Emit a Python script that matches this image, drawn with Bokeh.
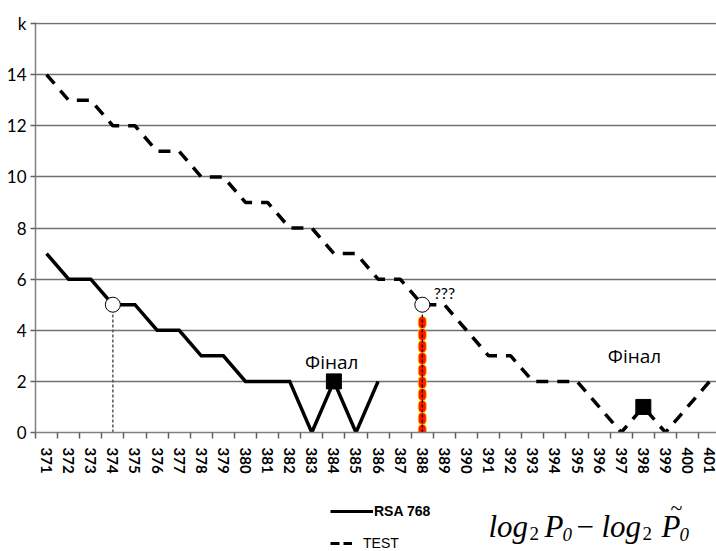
from bokeh.plotting import figure
from bokeh.layouts import column
from bokeh.models import Range1d, FixedTicker, Label, Legend, LegendItem
from bokeh.embed import file_html
from bokeh.resources import INLINE

# ---------------- data ----------------
categories = list(range(371, 402))
rsa_x = categories[:16]
rsa_k = [7, 6, 6, 5, 5, 4, 4, 3, 3, 2, 2, 2, 0, 2, 0, 2]
test_k = [14, 13, 13, 12, 12, 11, 11, 10, 10, 9, 9, 8, 8, 7, 7, 6, 6, 5, 5,
          4, 3, 3, 2, 2, 2, 1, 0, 1, 0, 1, 2]
y_ticks = [0, 2, 4, 6, 8, 10, 12, 14, 16]
y_tick_labels = {0: "0", 2: "2", 4: "4", 6: "6", 8: "8", 10: "10", 12: "12", 14: "14", 16: "k"}

circle_x = [374, 388]
circle_k = [5, 5]
square_x = [384, 398]
square_k = [2, 1]
gray_drop_x = [374, 374]
gray_drop_k = [0, 5]
red_drop_x = [388, 388]
red_drop_k = [0, 4.4]
black_drop_k = [0, 5]

final_labels_x = [383.9, 397.6]
final_labels_k = [2.75, 3.0]
question_x = 389.0
question_k = 5.47

series_names = ["RSA 768", "TEST"]

# ---------------- main figure ----------------
p = figure(width=716, height=490, output_backend="svg", toolbar_location=None,
           x_range=Range1d(370.5, 401.31), y_range=Range1d(0, 16.04),
           min_border_left=35, min_border_right=0, min_border_top=22, min_border_bottom=58,
           background_fill_color="white", border_fill_color="white")
p.outline_line_color = None

xa = p.xaxis[0]
xa.ticker = FixedTicker(ticks=categories,
                        minor_ticks=[c - 0.5 for c in categories] + [categories[-1] + 0.5])
xa.major_label_overrides = {c: str(c) for c in categories}
xa.axis_line_color = "#808080"
xa.axis_line_width = 1.5
xa.major_tick_line_color = None
xa.major_tick_out = 6
xa.major_tick_in = 0
xa.minor_tick_line_color = "#606060"
xa.minor_tick_line_width = 1.5
xa.minor_tick_out = 6
xa.minor_tick_in = 0
xa.major_label_orientation = "vertical"
xa.major_label_standoff = 9
xa.major_label_text_font = "Lato"
xa.major_label_text_font_style = "bold"
xa.major_label_text_font_size = "15px"
xa.major_label_text_color = "black"

ya = p.yaxis[0]
ya.ticker = FixedTicker(ticks=y_ticks)
ya.major_label_overrides = y_tick_labels
ya.axis_line_color = "#808080"
ya.axis_line_width = 1.5
ya.major_tick_line_color = "#606060"
ya.major_tick_line_width = 1.5
ya.major_tick_out = 5
ya.major_tick_in = 0
ya.minor_tick_line_color = None
ya.major_label_standoff = 4
ya.major_label_text_font = "Lato"
ya.major_label_text_font_size = "17px"
ya.major_label_text_color = "black"

p.xgrid.visible = False
p.ygrid.ticker = FixedTicker(ticks=y_ticks)
p.ygrid.grid_line_color = "#707070"
p.ygrid.grid_line_width = 1.5

# drop lines
p.line(gray_drop_x, gray_drop_k, line_color="#555555", line_width=1.5, line_dash="3 2")
p.line(red_drop_x, red_drop_k, line_color="#FFC000", line_width=9, line_dash="4 8", line_cap="round")
p.line(red_drop_x, red_drop_k, line_color="#FF1500", line_width=7, line_dash="4 8", line_cap="round")
p.line(red_drop_x, black_drop_k, line_color="black", line_width=1.2, line_dash="3 2")

# series
p.line(categories, test_k, line_color="black", line_width=3.5, line_dash="12 9")
p.line(rsa_x, rsa_k, line_color="black", line_width=3.5, line_join="miter")

# markers
p.scatter(circle_x, circle_k, marker="circle", size=15, fill_color="white",
          line_color="black", line_width=1)
p.scatter(square_x, square_k, marker="square", size=15, fill_color="black", line_color="black")

# annotations
for fx, fk in zip(final_labels_x, final_labels_k):
    p.add_layout(Label(x=fx, y=fk, text="Фінал", text_align="center", text_baseline="middle",
                       text_font="Open Sans", text_font_size="19px", text_color="black"))
p.add_layout(Label(x=question_x, y=question_k, text="???", text_align="center",
                   text_baseline="middle", text_font="Lato", text_font_size="16px",
                   text_color="black"))

# ---------------- bottom strip: legend + formula ----------------
# the strip's frame is aligned with the main frame (page x 35..716);
# x here = page pixel x, y = pixels below the top of the strip (page y 490)
q = figure(width=716, height=61, output_backend="svg", toolbar_location=None,
           x_range=Range1d(35, 716), y_range=Range1d(61, 0),
           x_axis_location=None, y_axis_location=None,
           min_border_left=35, min_border_right=0, min_border_top=0, min_border_bottom=0,
           background_fill_color="white", border_fill_color="white")
q.outline_line_color = None
q.xgrid.visible = False
q.ygrid.visible = False

# legend key renderers (their data lie outside the visible strip)
r_rsa = q.line([-100, -90], [-100, -100], line_color="black", line_width=3)
r_test = q.line([-100, -90], [-100, -100], line_color="black", line_width=3, line_dash="9 4")
leg_common = dict(padding=0, margin=0, spacing=0, border_line_color=None,
                  background_fill_alpha=0, label_text_color="black")
leg1 = Legend(items=[LegendItem(label=series_names[0], renderers=[r_rsa])],
              location=(295, 30), glyph_width=43, glyph_height=20, label_height=20,
              label_standoff=1, label_text_font="Liberation Sans",
              label_text_font_style="bold", label_text_font_size="14px", **leg_common)
leg2 = Legend(items=[LegendItem(label=series_names[1], renderers=[r_test])],
              location=(295, 0), glyph_width=22, glyph_height=12, label_height=12,
              label_standoff=11, label_text_font="Liberation Sans",
              label_text_font_size="14px", **leg_common)
q.add_layout(leg1)
q.add_layout(leg2)

# formula: log2 P0 - log2 P~0   (text, x, baseline y, size, style)
formula_parts = [
    ("log", 488, 36, 31, "italic"),
    ("2", 529, 43, 19, "normal"),
    ("P", 544, 36, 31, "italic"),
    ("0", 562, 44, 19, "italic"),
    ("\u2212", 576, 36, 31, "normal"),
    ("log", 601, 36, 31, "italic"),
    ("2", 642, 43, 19, "normal"),
    ("P", 661, 36, 31, "italic"),
    ("~", 670, 17, 22, "normal"),
    ("0", 679, 44, 19, "italic"),
]
for txt, px, py, fs, st in formula_parts:
    q.add_layout(Label(x=px, y=py, text=txt, text_align="left", text_baseline="alphabetic",
                       text_font="Liberation Serif", text_font_style=st,
                       text_font_size=f"{fs}px", text_color="black"))

layout = column(p, q, spacing=0)
open("out.html", "w").write(file_html(layout, INLINE))
